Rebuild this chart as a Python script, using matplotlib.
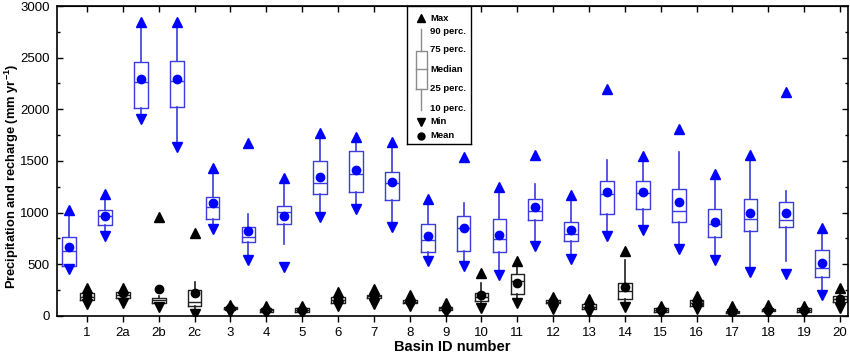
import matplotlib
matplotlib.use("Agg")
import matplotlib.pyplot as plt
from matplotlib.ticker import MultipleLocator

plt.rcParams["font.family"] = ["Liberation Sans", "DejaVu Sans"]
plt.rcParams["mathtext.fontset"] = "custom"
plt.rcParams["mathtext.rm"] = "Liberation Sans"
plt.rcParams["mathtext.bf"] = "Liberation Sans:bold"

# ---------------------------------------------------------------------------
# data
# ---------------------------------------------------------------------------
basins = ["1", "2a", "2b", "2c", "3", "4", "5", "6", "7", "8", "9", "10",
          "11", "12", "13", "14", "15", "16", "17", "18", "19", "20"]

# precipitation (blue)
p_max = [1026, 1181, 2842, 2842, 1436, 1671, 1339, 1770, 1736, 1687, 1136,
         1536, 1252, 1555, 1171, 2194, 1548, 1807, 1371, 1558, 2171, 855]
p_p90 = [1000, 1150, 2800, 2800, 1400, 984, 1310, 1740, 1700, 1650, 1100,
         1097, 1220, 1278, 1140, 1507, 1515, 1587, 1340, 1525, 1213, 825]
p_q3 = [768, 1026, 2458, 2471, 1148, 865, 1068, 1497, 1594, 1397, 887,
        968, 942, 1129, 907, 1307, 1307, 1229, 1032, 1129, 1100, 639]
p_med = [632, 968, 2265, 2274, 1052, 761, 1003, 1290, 1374, 1284, 736,
         855, 742, 1013, 797, 1177, 1187, 1019, 887, 942, 929, 468]
p_q1 = [484, 881, 2010, 2026, 939, 713, 887, 1177, 1203, 1123, 623,
        632, 616, 926, 729, 990, 1032, 913, 761, 819, 858, 374]
p_p10 = [470, 800, 1930, 1670, 860, 570, 694, 990, 1060, 890, 560,
         515, 420, 700, 580, 800, 860, 680, 570, 450, 532, 230]
p_min = [452, 777, 1907, 1639, 839, 542, 477, 961, 1032, 865, 532,
         487, 394, 677, 555, 777, 832, 652, 542, 423, 406, 203]
p_mean = [665, 971, 2297, 2290, 1090, 826, 968, 1348, 1410, 1297, 774,
          852, 781, 1055, 832, 1203, 1203, 1100, 913, 994, 994, 510]

# recharge (black)
r_max = [268, 268, 961, 800, 106, 97, 97, 235, 261, 203, 129,
         419, 532, 187, 161, 632, 97, 194, 97, 106, 97, 274]
r_p90 = [245, 250, 190, 332, 95, 80, 80, 200, 220, 170, 100,
         316, 500, 165, 125, 542, 85, 165, 60, 80, 80, 210]
r_q3 = [219, 229, 177, 252, 90, 68, 74, 187, 206, 155, 90,
        226, 403, 155, 113, 323, 74, 155, 48, 71, 74, 197]
r_med = [187, 203, 155, 132, 75, 55, 58, 155, 190, 139, 74,
         187, 339, 139, 90, 242, 58, 123, 35, 58, 58, 165]
r_q1 = [155, 171, 123, 97, 65, 42, 42, 123, 171, 123, 58,
        145, 213, 123, 71, 165, 42, 97, 26, 45, 42, 132]
r_p10 = [135, 140, 100, 20, 55, 35, 35, 105, 130, 110, 45,
         90, 150, 80, 55, 110, 38, 80, 20, 35, 38, 100]
r_min = [116, 123, 84, 16, 42, 26, 26, 97, 116, 97, 35,
         74, 129, 65, 42, 90, 32, 68, 16, 26, 32, 74]
r_mean = [197, 219, 258, 226, 78, 55, 58, 165, 197, 139, 68,
          200, 323, 145, 90, 284, 58, 123, 35, 58, 58, 165]

BLUE = "#0000ff"
BLUE_BOX = "#3c3cdc"


def make_stats(q1, med, q3, lo, hi, mean):
    return [dict(q1=a, med=b, q3=c, whislo=d, whishi=e, mean=f, fliers=[])
            for a, b, c, d, e, f in zip(q1, med, q3, lo, hi, mean)]


def draw_group(ax, stats, pos, vmax, vmin, line_c, mark_c):
    ax.bxp(stats, positions=pos, widths=0.38, showmeans=True, showcaps=False,
           manage_ticks=False,
           boxprops=dict(color=line_c, lw=1.0),
           whiskerprops=dict(color=line_c, lw=1.2),
           medianprops=dict(color=line_c, lw=1.0),
           meanprops=dict(marker="o", markerfacecolor=mark_c,
                          markeredgecolor=mark_c, markersize=6))
    ax.plot(pos, vmax, ls="none", marker="^", color=mark_c, markersize=6.5)
    ax.plot(pos, vmin, ls="none", marker="v", color=mark_c, markersize=6.5)


fig = plt.figure(figsize=(8.5, 3.53), dpi=100)
ax = fig.add_axes([0.067, 0.105, 0.9306, 0.878])

x_black = list(range(len(basins)))
x_blue = [x - 0.5 for x in x_black]

draw_group(ax, make_stats(p_q1, p_med, p_q3, p_p10, p_p90, p_mean),
           x_blue, p_max, p_min, BLUE_BOX, BLUE)
draw_group(ax, make_stats(r_q1, r_med, r_q3, r_p10, r_p90, r_mean),
           x_black, r_max, r_min, "#202020", "black")

ax.set_xlim(-0.84, 21.22)
ax.set_ylim(0, 3000)
ax.set_xticks(x_black)
ax.set_xticklabels(basins)
ax.yaxis.set_major_locator(MultipleLocator(500))
ax.yaxis.set_minor_locator(MultipleLocator(250))
ax.tick_params(axis="x", direction="out", length=4, width=1, labelsize=9.5, pad=4)
ax.tick_params(axis="y", which="both", direction="in", width=1, labelsize=9.5,
               right=True, pad=5)
ax.tick_params(axis="y", which="major", length=4)
ax.tick_params(axis="y", which="minor", length=2.5)
# top ticks at the category positions
top = ax.secondary_xaxis("top")
top.set_xticks(x_black)
top.tick_params(direction="in", length=4, width=1, labeltop=False)
for s in ax.spines.values():
    s.set_linewidth(1.2)

ax.set_xlabel("Basin ID number", fontsize=10.5, fontweight="bold", labelpad=1)
ax.set_ylabel(r"Precipitation and recharge (mm yr$^{\mathbf{-1}}$)",
              fontsize=9.3, fontweight="bold")
ax.yaxis.set_label_coords(-0.045, 0.45)

# ---------------------------------------------------------------------------
# key drawn as a small framed panel
# ---------------------------------------------------------------------------
lg = ax.inset_axes([0.4425, 0.555, 0.081, 0.445])
lg.set_xlim(0, 1)
lg.set_ylim(0, 1)
lg.set_xticks([])
lg.set_yticks([])
for s in lg.spines.values():
    s.set_linewidth(1.0)
grey = "#8c8c8c"
sx = 0.22
lg.plot([sx], [0.913], marker="^", color="black", markersize=5.5)
lg.plot([sx, sx], [0.833, 0.674], color=grey, lw=1)
lg.plot([sx, sx], [0.399, 0.246], color=grey, lw=1)
lg.plot([0.14, 0.31, 0.31, 0.14, 0.14], [0.399, 0.399, 0.674, 0.674, 0.399],
        color=grey, lw=1)
lg.plot([0.14, 0.31], [0.543, 0.543], color=grey, lw=1)
lg.plot([sx], [0.159], marker="v", color="black", markersize=5.5)
lg.plot([sx], [0.058], marker="o", color="black", markersize=5)
key_text = [("Max", 0.913), ("90 perc.", 0.812), ("75 perc.", 0.681),
            ("Median", 0.543), ("25 perc.", 0.399), ("10 perc.", 0.254),
            ("Min", 0.159), ("Mean", 0.058)]
for t, y in key_text:
    lg.text(0.36, y, t, fontsize=6.8, fontweight="bold", va="center", ha="left")

fig.savefig("out.png", dpi=100)
